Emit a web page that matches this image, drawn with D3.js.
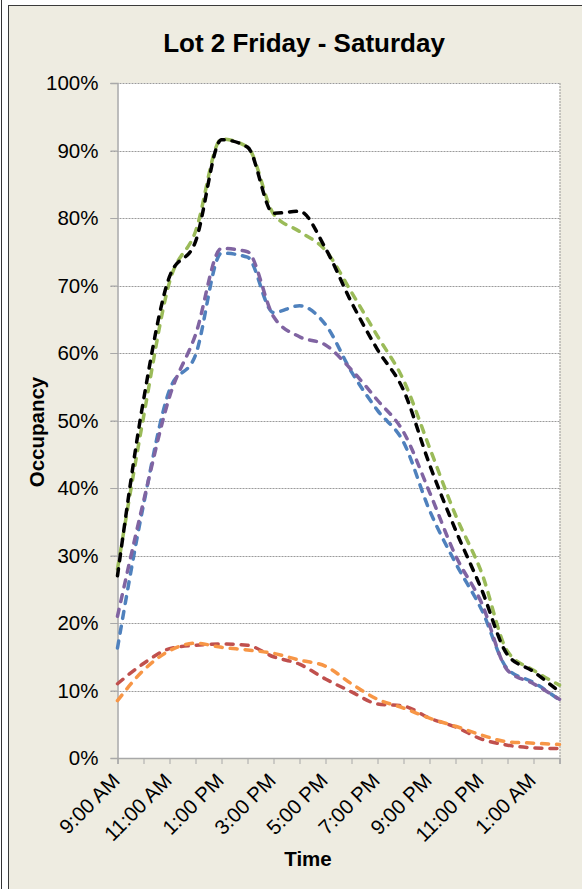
<!DOCTYPE html>
<html>
<head>
<meta charset="utf-8">
<script src="https://cdn.jsdelivr.net/npm/d3@7"></script>
<style>
  html, body { margin: 0; padding: 0; background: #ffffff; }
  svg { display: block; }
  text { font-family: "Liberation Sans", Arial, sans-serif; fill: #000; }
</style>
</head>
<body>
<div id="chart"></div>
<script>
// ---- Data ----
const times = ["9:00 AM","10:00 AM","11:00 AM","12:00 PM","1:00 PM","2:00 PM","3:00 PM","4:00 PM","5:00 PM",
               "6:00 PM","7:00 PM","8:00 PM","9:00 PM","10:00 PM","11:00 PM","12:00 AM","1:00 AM","2:00 AM"];
const yTicks = [0, 0.1, 0.2, 0.3, 0.4, 0.5, 0.6, 0.7, 0.8, 0.9, 1.0];

const seriesBlue   = [16.3, 37.5, 54.5, 59.7, 74.8, 74.2, 66.0, 67.0, 64.2, 57.2, 51.5, 46.8, 36.7, 28.9, 22.0, 13.2, 11.2, 8.6];
const seriesRed    = [11.0, 14.0, 16.2, 16.7, 16.9, 16.7, 15.0, 13.9, 11.7, 9.8, 8.0, 7.7, 5.9, 4.6, 2.8, 1.9, 1.5, 1.4];
const seriesGreen  = [28.0, 50.5, 70.5, 78.0, 91.7, 90.5, 80.6, 78.0, 75.2, 69.0, 62.5, 56.0, 46.0, 36.0, 27.5, 15.8, 13.0, 10.8];
const seriesPurple = [21.0, 38.0, 53.5, 62.7, 75.5, 75.0, 65.4, 62.4, 61.2, 57.5, 53.0, 48.3, 39.4, 30.0, 23.0, 13.0, 11.0, 8.7];
const seriesOrange = [8.5, 13.0, 15.9, 17.0, 16.4, 16.0, 15.5, 14.5, 13.6, 11.0, 8.7, 7.4, 5.9, 4.7, 3.4, 2.4, 2.2, 2.0];
const seriesBlack  = [27.0, 53.0, 71.3, 76.5, 91.6, 90.5, 80.7, 81.0, 75.5, 67.5, 60.5, 54.5, 43.5, 33.8, 25.0, 15.3, 12.8, 9.8];

const series = [
  { name: "Blue",   color: "#4F81BD", values: seriesBlue },
  { name: "Red",    color: "#C0504D", values: seriesRed },
  { name: "Green",  color: "#9BBB59", values: seriesGreen },
  { name: "Purple", color: "#8064A2", values: seriesPurple },
  { name: "Orange", color: "#F79646", values: seriesOrange },
  { name: "Black",  color: "#000000", values: seriesBlack }
];

// ---- Layout ----
const W = 582, H = 889;
const plot = { left: 117.5, right: 559.5, top: 83, bottom: 758 };

const svg = d3.select("#chart").append("svg").attr("width", W).attr("height", H);

// outer frame
svg.append("line").attr("x1", 1.5).attr("x2", 1.5).attr("y1", 0).attr("y2", H)
  .attr("stroke", "#333").attr("stroke-width", 1);
svg.append("rect").attr("x", 8.5).attr("y", 5.5).attr("width", 620).attr("height", 920)
  .attr("fill", "#EEECE1").attr("stroke", "#3a3a3a").attr("stroke-width", 1);

const x = d3.scalePoint().domain(times).range([plot.left, plot.right]);
const y = d3.scaleLinear().domain([0, 1]).range([plot.bottom, plot.top]);

// plot area
svg.append("rect").attr("x", plot.left).attr("y", plot.top)
  .attr("width", plot.right - plot.left).attr("height", plot.bottom - plot.top)
  .attr("fill", "#ffffff");

// gridlines
svg.append("g").selectAll("line").data(yTicks.filter(d => d > 0)).join("line")
  .attr("x1", plot.left - 7).attr("x2", plot.right)
  .attr("y1", d => Math.round(y(d)) + 0.5).attr("y2", d => Math.round(y(d)) + 0.5)
  .attr("stroke", "#9a9a9a").attr("stroke-width", 1).attr("stroke-dasharray", "2,1");

// right border of plot (dotted)
svg.append("line").attr("x1", plot.right + 0.5).attr("x2", plot.right + 0.5)
  .attr("y1", plot.top).attr("y2", plot.bottom)
  .attr("stroke", "#9a9a9a").attr("stroke-dasharray", "2,1");

// Y axis
const yAxis = d3.axisLeft(y).tickValues(yTicks).tickFormat(d3.format(".0%")).tickSize(7).tickPadding(12);
const gy = svg.append("g").attr("transform", `translate(${plot.left},0)`).call(yAxis);
gy.select(".domain").attr("stroke", "#a8a8a8").attr("stroke-width", 1.5);
gy.selectAll(".tick line").attr("stroke", "#a8a8a8");
gy.selectAll(".tick text").attr("font-size", "20.5px").attr("fill", "#000")
  .attr("font-family", "'Liberation Sans', Arial, sans-serif");

// X axis
const xAxis = d3.axisBottom(x).tickSize(6).tickFormat((d, i) => i % 2 === 0 ? d : "");
const gx = svg.append("g").attr("transform", `translate(0,${plot.bottom})`).call(xAxis);
gx.select(".domain").attr("stroke", "#a8a8a8").attr("stroke-width", 1.5);
gx.selectAll(".tick line").attr("stroke", "#a8a8a8");
gx.selectAll(".tick text")
  .attr("font-size", "20.5px").attr("fill", "#000")
  .attr("font-family", "'Liberation Sans', Arial, sans-serif")
  .attr("text-anchor", "end")
  .attr("dy", "0")
  .attr("transform", "translate(3,24) rotate(-45)")
  .attr("x", 0).attr("y", 0);

// lines
const line = d3.line()
  .x((d, i) => x(times[i]))
  .y(d => y(d / 100))
  .curve(d3.curveMonotoneX);

svg.append("g").selectAll("path").data(series).join("path")
  .attr("d", s => line(s.values))
  .attr("fill", "none")
  .attr("stroke", s => s.color)
  .attr("stroke-width", 3.5)
  .attr("stroke-linecap", "round")
  .attr("stroke-dasharray", "7,8");

// titles
svg.append("text").attr("x", 304).attr("y", 52).attr("text-anchor", "middle")
  .attr("font-size", "26px").attr("font-weight", "bold").text("Lot 2 Friday - Saturday");

svg.append("text").attr("transform", "translate(44,432) rotate(-90)").attr("text-anchor", "middle")
  .attr("font-size", "20.5px").attr("font-weight", "bold").text("Occupancy");

svg.append("text").attr("x", 308).attr("y", 866).attr("text-anchor", "middle")
  .attr("font-size", "20.5px").attr("font-weight", "bold").text("Time");
</script>
</body>
</html>
